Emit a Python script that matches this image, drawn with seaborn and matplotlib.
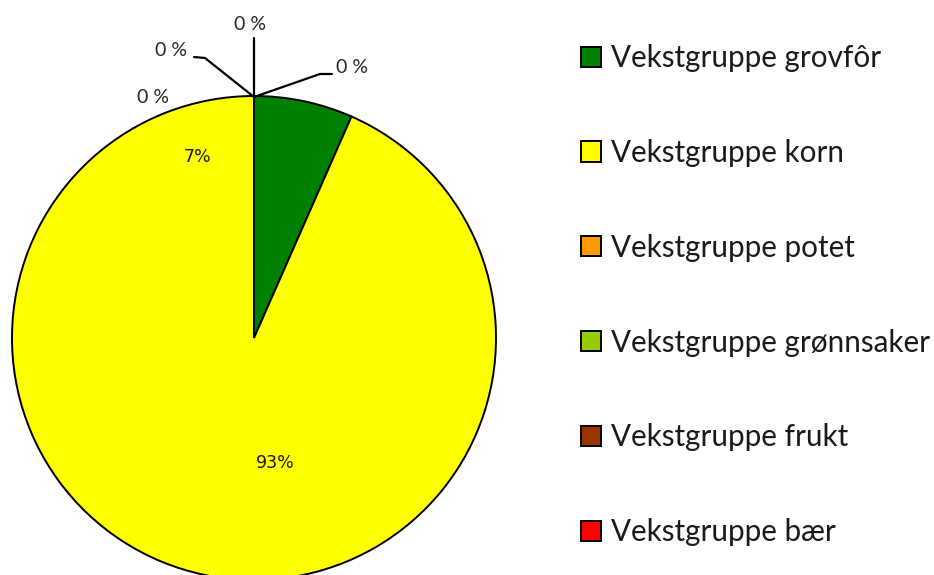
import matplotlib
matplotlib.use("Agg")
import matplotlib.pyplot as plt
import seaborn as sns

# data
groups = ["Vekstgruppe grovfôr", "Vekstgruppe korn", "Vekstgruppe potet",
          "Vekstgruppe grønnsaker", "Vekstgruppe frukt", "Vekstgruppe bær"]
shares = [6.6, 93.4, 0, 0, 0, 0]
share_labels = ["7%", "93%", "0 %", "0 %", "0 %", "0 %"]
colors = ["#008000", "#FFFF00", "#FF9900", "#99CC00", "#993300", "#FF0000"]

sns.set_style("white")
plt.rcParams["font.family"] = ["Lato", "DejaVu Sans"]

W, H = 934, 575
R = 242.0        # pie radius in pixels
cx, cy = 254, 338  # pie centre in pixels (from top-left)

fig = plt.figure(figsize=(W / 100, H / 100), dpi=100)
ax = fig.add_axes([0, 0, 1, 1])

wedges, _ = ax.pie(shares, colors=colors, startangle=90, counterclock=False,
                   radius=1.0, center=(0, 0), frame=True,
                   wedgeprops=dict(edgecolor="black", linewidth=1.4))
ax.axis("off")
ax.set_xlim(-cx / R, (W - cx) / R)
ax.set_ylim(-(H - cy) / R, cy / R)
ax.set_aspect("equal")


def px(x, y):
    return ((x - cx) / R, (cy - y) / R)


# data labels on the slices
ax.text(*px(197, 157), share_labels[0], ha="center", va="center",
        fontsize=12.5, family="DejaVu Sans", color="#1a1a1a")
ax.text(*px(275, 463), share_labels[1], ha="center", va="center",
        fontsize=12.5, family="DejaVu Sans", color="#1a1a1a")

# zero slices, labels with leader lines
top = px(254, 97)
lk = dict(color="black", lw=1.6)
tk = dict(ha="center", va="center", fontsize=14, color="#262626")
ax.text(*px(153, 97), share_labels[2], **tk)
ax.plot(*zip(top, px(205, 58), px(194, 57)), **lk)
ax.text(*px(171, 50), share_labels[3], **tk)
ax.plot(*zip(top, px(254, 38)), **lk)
ax.text(*px(250, 24), share_labels[4], **tk)
ax.plot(*zip(top, px(320, 74), px(332, 74)), **lk)
ax.text(*px(352, 67), share_labels[5], **tk)

fig.legend(wedges, groups, loc="upper left", bbox_to_anchor=(581 / W, 1 - 44 / H),
           frameon=False, fontsize=21.3, labelspacing=2.26, handlelength=0.67,
           handleheight=0.67, handletextpad=0.33, borderaxespad=0, borderpad=0,
           labelcolor="#1a1a1a")

fig.savefig("out.png", dpi=100)
